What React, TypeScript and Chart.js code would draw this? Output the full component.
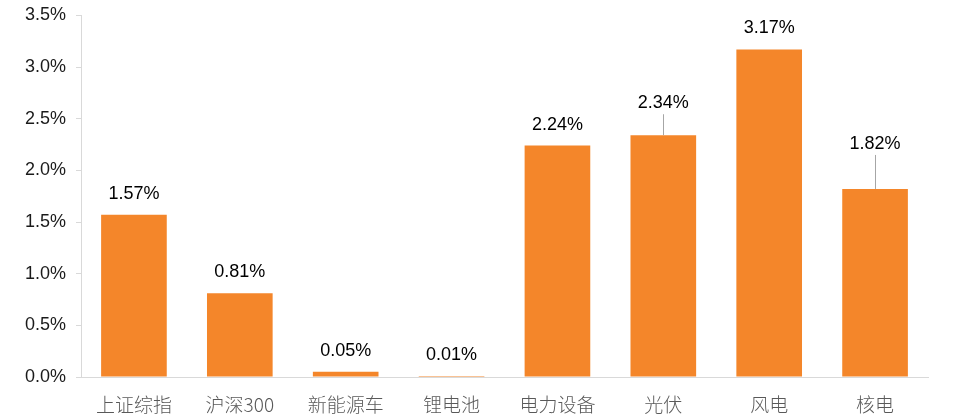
import React, { useEffect, useRef } from "react";
import { Chart, registerables } from "chart.js";

Chart.register(...registerables);

const categories = ["上证综指", "沪深300", "新能源车", "锂电池", "电力设备", "光伏", "风电", "核电"];
const values = [1.57, 0.81, 0.05, 0.01, 2.24, 2.34, 3.17, 1.82];
const valueLabels = ["1.57%", "0.81%", "0.05%", "0.01%", "2.24%", "2.34%", "3.17%", "1.82%"];
const yTicks = [0, 0.5, 1.0, 1.5, 2.0, 2.5, 3.0, 3.5];

const labelLift = [0, 0, 0, 0, 0, 11, 0, 24];

const dataLabelPlugin = {
  id: "dataLabels",
  afterDatasetsDraw(chart: any) {
    const ctx = chart.ctx;
    const meta = chart.getDatasetMeta(0);
    ctx.save();
    ctx.font = "18px 'Liberation Sans', Arial, sans-serif";
    ctx.fillStyle = "#000000";
    ctx.textAlign = "center";
    ctx.textBaseline = "alphabetic";
    meta.data.forEach((bar: any, i: number) => {
      const lift = labelLift[i];
      const baseY = bar.y - 16 - lift;
      ctx.fillText(valueLabels[i], bar.x, baseY);
      if (lift > 0) {
        ctx.strokeStyle = "#a6a6a6";
        ctx.lineWidth = 1;
        ctx.beginPath();
        ctx.moveTo(Math.round(bar.x) + 0.5, baseY + 6);
        ctx.lineTo(Math.round(bar.x) + 0.5, bar.y);
        ctx.stroke();
      }
    });
    ctx.restore();
  },
};

export default function App() {
  const ref = useRef<HTMLCanvasElement | null>(null);
  useEffect(() => {
    if (!ref.current) return;
    const chart = new Chart(ref.current, {
      type: "bar",
      data: {
        labels: categories,
        datasets: [
          {
            data: values,
            backgroundColor: "#F4862A",
            borderWidth: 0,
            barPercentage: 0.62,
            categoryPercentage: 1,
          },
        ],
      },
      options: {
        animation: false,
        responsive: false,
        maintainAspectRatio: false,
        layout: { padding: { top: 11, right: 36, left: 0, bottom: 0 } },
        plugins: {
          legend: { display: false },
          tooltip: { enabled: false },
        },
        scales: {
          x: {
            grid: { display: false },
            border: { display: true, color: "#d9d9d9", width: 1 },
            ticks: {
              color: "#595959",
              font: { size: 19, family: "'Noto Sans CJK SC', sans-serif", weight: "300" as any },
              padding: 8,
              maxRotation: 0,
              autoSkip: false,
            },
            afterFit(scale: any) {
              scale.height = 40;
            },
          },
          y: {
            min: 0,
            max: 3.5,
            afterBuildTicks(scale: any) {
              scale.ticks = yTicks.map((v) => ({ value: v }));
            },
            grid: {
              display: true,
              drawOnChartArea: false,
              drawTicks: true,
              tickLength: 5,
              color: "#d9d9d9",
            },
            border: { display: true, color: "#d9d9d9", width: 1 },
            ticks: {
              color: "#1a1a1a",
              font: { size: 18, family: "'Liberation Sans', Arial, sans-serif", lineHeight: 0.6 },
              padding: 10,
              callback: (v: any) => Number(v).toFixed(1) + "%",
            },
            afterFit(scale: any) {
              scale.width = 81;
            },
          },
        },
      },
      plugins: [dataLabelPlugin],
    });
    return () => chart.destroy();
  }, []);
  return (
    <div style={{ position: "fixed", left: 0, top: 0, width: 964, height: 417, background: "#fff" }}>
      <canvas ref={ref} width={964} height={417} style={{ width: 964, height: 417 }} />
    </div>
  );
}
